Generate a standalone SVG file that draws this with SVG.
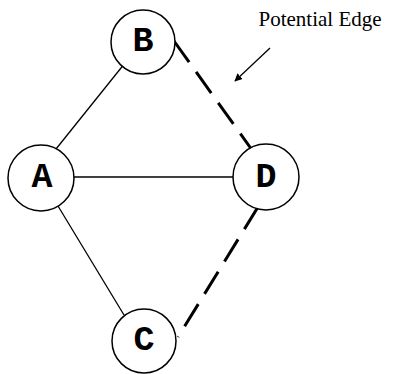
<svg xmlns="http://www.w3.org/2000/svg" width="394" height="374" viewBox="0 0 394 374">
<style>
.node{fill:#fff;stroke:#000;stroke-width:1.5}
.solid{stroke:#000;stroke-width:1.3;fill:none}
.dash{stroke:#000;stroke-width:3;fill:none;stroke-dasharray:26 12}
</style>
<defs>
<marker id="ah" viewBox="0 0 10 10" refX="9" refY="5" markerWidth="6" markerHeight="6" orient="auto">
<path d="M0,0 L10,5 L0,10 z" fill="#000"/>
</marker>
</defs>
<g id="connectors">
<line class="solid" x1="56" y1="149" x2="125" y2="63"/>
<line class="solid" x1="73" y1="177" x2="233" y2="177"/>
<line class="solid" x1="58" y1="206" x2="124" y2="315"/>
<line class="dash" x1="174" y1="41" x2="252" y2="150"/>
<line class="dash" x1="258" y1="207" x2="178" y2="337"/>
<line class="solid" x1="270" y1="48" x2="235" y2="81" stroke-width="2" marker-end="url(#ah)"/>
</g>
<g font-family="Liberation Mono, Courier New, monospace" font-weight="bold" font-size="35" text-anchor="middle" fill="#000">
<g id="A"><circle class="node" cx="41" cy="178" r="33"/><text x="42" y="187">A</text></g>
<g id="B"><circle class="node" cx="143" cy="42" r="32"/><text x="143" y="51">B</text></g>
<g id="D"><circle class="node" cx="266" cy="177" r="33"/><text x="266" y="187">D</text></g>
<g id="C"><circle class="node" cx="144" cy="341" r="32"/><text x="144" y="350">C</text></g>
</g>
<text x="320" y="26" font-family="Liberation Serif, serif" font-size="21" text-anchor="middle">Potential Edge</text>
</svg>
